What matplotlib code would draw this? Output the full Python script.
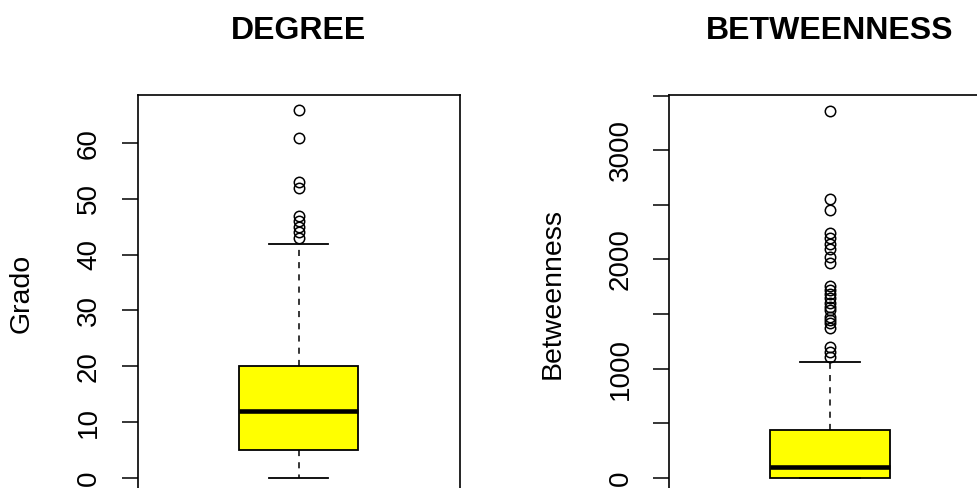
import matplotlib
matplotlib.use("Agg")
import matplotlib.pyplot as plt

plt.rcParams['font.family'] = ['Liberation Sans', 'DejaVu Sans']

# DEGREE box statistics
deg_q1, deg_med, deg_q3 = 5, 12, 20
deg_lo, deg_hi = 0, 42
deg_out = [66, 61, 53, 52, 47, 46, 45, 44, 43]

# BETWEENNESS box statistics
bet_q1, bet_med, bet_q3 = 0, 98, 433
bet_lo, bet_hi = 0, 1062
bet_out = [3358, 2557, 2450, 2244, 2193, 2141, 2092, 2025, 1964,
           1757, 1720, 1680, 1644, 1598, 1560, 1537, 1476, 1446, 1415,
           1370, 1201, 1156, 1110]

titles = ["DEGREE", "BETWEENNESS"]
ylabels = ["Grado", "Betweenness"]
deg_ticks = [0, 10, 20, 30, 40, 50, 60]
bet_ticks = [0, 500, 1000, 1500, 2000, 2500, 3000, 3500]
bet_labels = ["0", "", "1000", "", "2000", "", "3000", ""]

W, H = 977, 488
fig = plt.figure(figsize=(W / 100, H / 100), dpi=100)


def pix_axes(x0, x1, y0, y1):
    return fig.add_axes([x0 / W, (H - y1) / H, (x1 - x0) / W, (y1 - y0) / H])


ax1 = pix_axes(137.5, 459.5, 95, 492.5)
ax2 = pix_axes(669, 991, 95, 492.5)

stats = [
    dict(med=deg_med, q1=deg_q1, q3=deg_q3, whislo=deg_lo, whishi=deg_hi,
         fliers=deg_out),
    dict(med=bet_med, q1=bet_q1, q3=bet_q3, whislo=bet_lo, whishi=bet_hi,
         fliers=bet_out),
]

for ax, st, title, ylab in zip([ax1, ax2], stats, titles, ylabels):
    ax.bxp([st], positions=[1], widths=0.4, capwidths=0.2, patch_artist=True,
           boxprops=dict(facecolor='#ffff00', edgecolor='black', linewidth=1.3),
           medianprops=dict(color='black', linewidth=3.3, solid_capstyle='butt'),
           whiskerprops=dict(color='black', linewidth=1.1, linestyle=(0, (4, 4))),
           capprops=dict(color='black', linewidth=1.3),
           flierprops=dict(marker='o', markerfacecolor='none',
                           markeredgecolor='black', markersize=7.5,
                           markeredgewidth=1.1))
    ax.set_xlim(0.46, 1.54)
    ax.set_xticks([])
    ax.set_title(title, fontsize=23, fontweight='bold', pad=40)
    ax.set_ylabel(ylab, fontsize=20.5, labelpad=30)
    ax.tick_params(axis='y', direction='out', length=11.5, width=1.1,
                   labelsize=20, pad=14)
    for s in ax.spines.values():
        s.set_linewidth(1.2)

ax1.set_ylim(-2.64, 68.64)
ax1.set_yticks(deg_ticks)
ax1.set_yticklabels([str(t) for t in deg_ticks], rotation=90, va='center')

ax2.set_ylim(-135, 3505)
ax2.set_yticks(bet_ticks)
ax2.set_yticklabels(bet_labels, rotation=90, va='center')

fig.savefig("out.png", dpi=100)
